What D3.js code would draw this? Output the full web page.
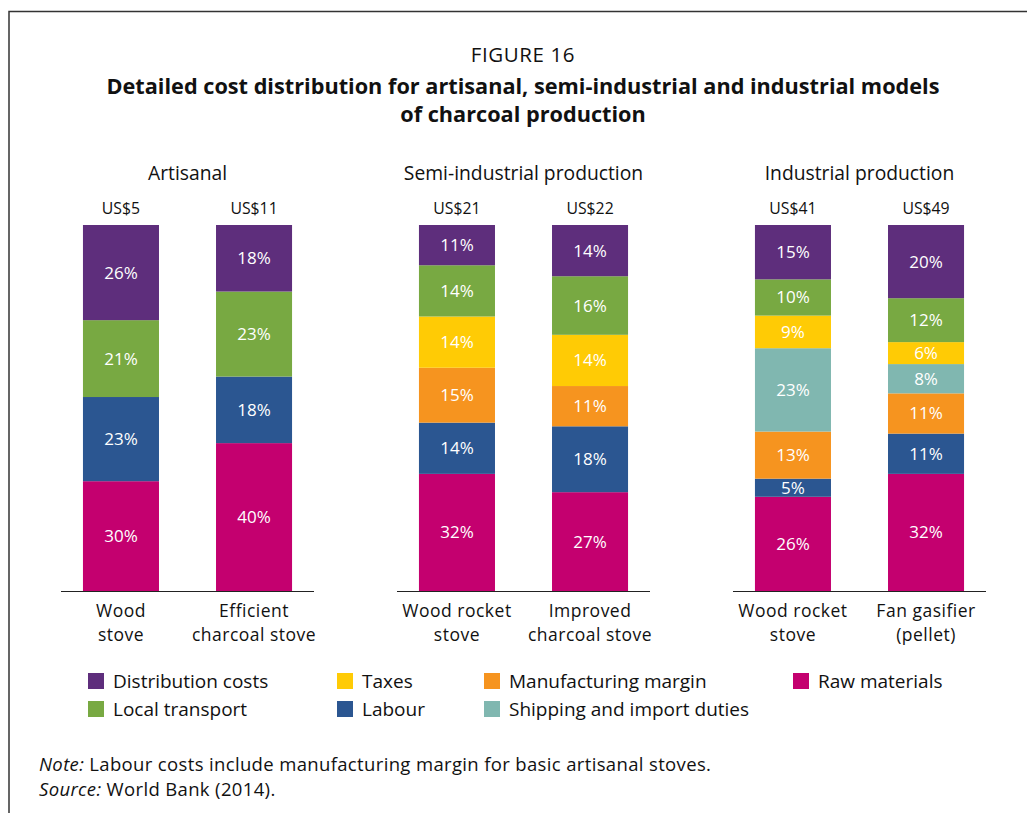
<!DOCTYPE html>
<html><head><meta charset="utf-8">
<script src="https://cdn.jsdelivr.net/npm/d3@7"></script>
<style>
html,body{margin:0;padding:0;background:#fff;}
svg text{font-family:"Open Sans","Noto Sans",sans-serif;}
</style></head>
<body><svg id="c" width="1027" height="813"></svg>
<script>
// ---- data ----
const groups = ["Artisanal", "Semi-industrial production", "Industrial production"];
const barIds = ["a1", "a2", "s1", "s2", "i1", "i2"];
const barGroup = ["Artisanal", "Artisanal", "Semi-industrial production", "Semi-industrial production", "Industrial production", "Industrial production"];
const barLabels = [["Wood", "stove"], ["Efficient", "charcoal stove"], ["Wood rocket", "stove"], ["Improved", "charcoal stove"], ["Wood rocket", "stove"], ["Fan gasifier", "(pellet)"]];
const totalCosts = [5, 11, 21, 22, 41, 49];
const seriesNames = ["Raw materials", "Labour", "Manufacturing margin", "Shipping and import duties", "Taxes", "Local transport", "Distribution costs"];
const rawMaterials   = [30, 40, 32, 27, 26, 32];
const labour         = [23, 18, 14, 18, 5, 11];
const manufacturing  = [0, 0, 15, 11, 13, 11];
const shipping       = [0, 0, 0, 0, 23, 8];
const taxes          = [0, 0, 14, 14, 9, 6];
const localTransport = [21, 23, 14, 16, 10, 12];
const distribution   = [26, 18, 11, 14, 15, 20];
const seriesColors = ["#C4006F", "#2B5691", "#F6941F", "#80B7B0", "#FFCB05", "#78A942", "#5E2E7C"];
const legendOrder = ["Distribution costs", "Taxes", "Manufacturing margin", "Raw materials", "Local transport", "Labour", "Shipping and import duties"];

const seriesValues = [rawMaterials, labour, manufacturing, shipping, taxes, localTransport, distribution];
const table = barIds.map((id, i) => {
  const row = {id: id, group: barGroup[i], total: totalCosts[i], label: barLabels[i]};
  seriesNames.forEach((s, k) => row[s] = seriesValues[k][i]);
  return row;
});

const svg = d3.select("#c");
// frame
svg.append("path").attr("d", "M9,813V11.5H1027").attr("fill", "none").attr("stroke", "#333").attr("stroke-width", 1.5);

// titles
svg.append("text").attr("x", 523).attr("y", 62).attr("text-anchor", "middle").attr("font-size", 20.5).attr("letter-spacing", 0.6).attr("fill", "#111").text("FIGURE 16");
svg.append("text").attr("x", 523).attr("y", 94).attr("text-anchor", "middle").attr("font-size", 21.7).attr("font-weight", "bold").attr("fill", "#111").text("Detailed cost distribution for artisanal, semi-industrial and industrial models");
svg.append("text").attr("x", 523).attr("y", 122).attr("text-anchor", "middle").attr("font-size", 21.7).attr("font-weight", "bold").attr("fill", "#111").text("of charcoal production");

// scales
const x0 = d3.scaleBand().domain(groups).range([61, 986]).paddingInner(0.247).paddingOuter(0);
const x1 = d3.scaleBand().domain([0, 1]).range([0, x0.bandwidth()]).paddingInner(0.4286).paddingOuter(0.165);
const y = d3.scaleLinear().domain([0, 1]).range([591, 225]);
const color = d3.scaleOrdinal().domain(seriesNames).range(seriesColors);

const barX = (d, i) => x0(d.group) + x1(i % 2);

const stacked = d3.stack().keys(seriesNames).offset(d3.stackOffsetExpand)(table);

const layer = svg.append("g").selectAll("g").data(stacked).join("g").attr("fill", s => color(s.key));
layer.selectAll("rect").data(s => s.map((p, i) => ({p, i, key: s.key})).filter(o => o.p[1] - o.p[0] > 0))
  .join("rect")
  .attr("x", o => barX(table[o.i], o.i))
  .attr("width", x1.bandwidth())
  .attr("y", o => y(o.p[1]))
  .attr("height", o => y(o.p[0]) - y(o.p[1]));

layer.selectAll("text").data(s => s.map((p, i) => ({p, i, key: s.key})).filter(o => o.p[1] - o.p[0] > 0))
  .join("text")
  .attr("x", o => barX(table[o.i], o.i) + x1.bandwidth() / 2)
  .attr("y", o => (y(o.p[0]) + y(o.p[1])) / 2 + 6)
  .attr("text-anchor", "middle").attr("font-size", 17).attr("fill", "#fff")
  .text(o => table[o.i][o.key] + "%");

// group titles
svg.append("g").selectAll("text").data(groups).join("text")
  .attr("x", g => x0(g) + x0.bandwidth() / 2).attr("y", 180)
  .attr("text-anchor", "middle").attr("font-size", 19.3).attr("fill", "#111").text(g => g);

// totals
svg.append("g").selectAll("text").data(table).join("text")
  .attr("x", (d, i) => barX(d, i) + x1.bandwidth() / 2).attr("y", 214)
  .attr("text-anchor", "middle").attr("font-size", 15.8).attr("fill", "#111").text(d => "US$" + d.total);

// axes baselines + category labels
groups.forEach((g, gi) => {
  const sub = table.filter(d => d.group === g);
  const ax = d3.axisBottom(x1).tickSize(0).tickFormat(i => "");
  const ga = svg.append("g").attr("transform", `translate(${x0(g)},591)`).call(ax);
  ga.select(".domain").attr("stroke", "#222").attr("stroke-width", 1.2).attr("d", `M0,0.5H${x0.bandwidth()}`);
  ga.selectAll(".tick text").remove();
  ga.selectAll(".tick").each(function(i) {
    const t = d3.select(this).append("text").attr("fill", "#111").attr("font-size", 17.5).attr("letter-spacing", 0.5).attr("text-anchor", "middle");
    sub[i].label.forEach((line, li) => t.append("tspan").attr("x", 0).attr("y", 26 + li * 24).text(line));
  });
});

// legend
const legX = [88, 337, 484, 793];
const leg = svg.append("g");
legendOrder.forEach((name, k) => {
  const col = k < 4 ? k : k - 4, row = k < 4 ? 0 : 1;
  const gx = legX[col], gy = 673 + row * 28;
  leg.append("rect").attr("x", gx).attr("y", gy).attr("width", 16).attr("height", 16).attr("fill", color(name));
  leg.append("text").attr("x", gx + 25).attr("y", gy + 15).attr("font-size", 19).attr("fill", "#111").text(name);
});

// note & source
const note = svg.append("text").attr("x", 39).attr("y", 771).attr("font-size", 18.5).attr("letter-spacing", 0.35).attr("fill", "#111");
note.append("tspan").attr("font-style", "italic").text("Note:");
note.append("tspan").text(" Labour costs include manufacturing margin for basic artisanal stoves.");
const src = svg.append("text").attr("x", 39).attr("y", 796).attr("font-size", 18.5).attr("letter-spacing", 0.35).attr("fill", "#111");
src.append("tspan").attr("font-style", "italic").text("Source:");
src.append("tspan").text(" World Bank (2014).");
</script></body></html>
